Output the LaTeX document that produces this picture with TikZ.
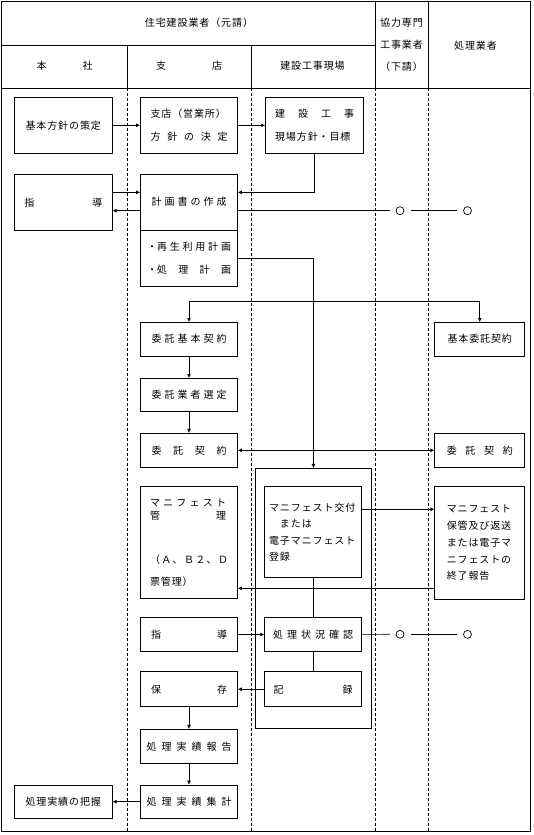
\documentclass[tikz,border=0pt]{standalone}
\usepackage{fontspec}
\newfontfamily\jfont[LetterSpace=9]{Noto Sans CJK JP}
\usetikzlibrary{arrows.meta}
\newcommand\spread[2]{\makebox[#1][s]{\spaceskip=0pt plus 1fil\relax #2}}

\begin{document}
\begin{tikzpicture}[x=1pt, y=-1pt, line width=0.7pt,
    >={Latex[length=4pt,width=4pt]},
    every node/.style={font=\jfont\fontsize{10}{13}\selectfont},
    box/.style={draw, minimum width=97pt, minimum height=34pt, inner sep=2pt},
    lane/.style={dash pattern=on 3pt off 2pt},
    ring/.style={draw, circle, minimum size=8pt, inner sep=0pt}]
    \useasboundingbox (0,0) rectangle (533,835);

    % frame and lanes
    \draw (1.5,1.5) rectangle (530.5,831.5);
    \draw (1.5,45.7) -- (375.5,45.7);
    \draw (1.5,88.3) -- (530.5,88.3);
    \draw (375.5,1.5) -- (375.5,88.3);
    \draw (428.6,1.5) -- (428.6,88.3);
    \draw (127.5,45.7) -- (127.5,88.3);
    \draw (251,45.7) -- (251,88.3);
    \foreach \x in {127.5,251,375.5,428.6}
        \draw[lane] (\x,88.3) -- (\x,831.5);

    \node (motouke) at (199,22.7) {住宅建設業者（元請）};
    \node[align=center, font=\jfont\fontsize{10}{22}\selectfont] (shitauke) at (401.5,44.5) {協力専門\\工事業者\\（下請）};
    \node (gyosha) at (475.5,45.7) {処理業者};
    \node (honsha) at (64.5,65.7) {\spread{56pt}{本 社}};
    \node (shitenh) at (189,65.7) {\spread{66pt}{支 店}};
    \node (genbah) at (312.5,65.7) {建設工事現場};

    % honsha
    \node[box, minimum width=97.9pt, minimum height=56pt] (kihon) at (63.25,125.3) {基本方針の策定};
    \node[box, minimum width=97.9pt, minimum height=55.7pt] (shidouA) at (63.25,202.2) {\spread{78pt}{指 導}};
    \node[box, minimum width=97.9pt, minimum height=33.3pt] (haaku) at (63.25,801.7) {処理実績の把握};

    % shiten
    \node[box, minimum height=56pt, align=left] (shiten) at (189,125.3) {支店（営業所）\\[9.6pt]\spread{77pt}{方 針 の 決 定}};
    \node[box, minimum height=55.7pt] (keikaku) at (189,202.2) {\spread{75pt}{計 画 書 の 作 成}};
    \node[box, minimum height=56pt, align=left] (plan) at (189,258) {・\spread{74pt}{再 生 利 用 計 画}\\[10.4pt]・\spread{74pt}{処 理 計 画}};
    \node[box, minimum height=33.7pt] (kihonkeiyaku) at (189,339.2) {\spread{75pt}{委 託 基 本 契 約}};
    \node[box, minimum height=32.7pt] (sentei) at (189,394.7) {\spread{75pt}{委 託 業 者 選 定}};
    \node[box] (keiyakuB) at (189,450.3) {\spread{75pt}{委 託 契 約}};
    \node[box, minimum height=111.6pt, text width=78pt, align=left] (kanri) at (189,542.5)
        {\spread{76pt}{マ ニ フ ェ ス ト}\\\spread{76pt}{管 理}\\[31.3pt]\spread{78pt}{（ Ａ 、 Ｂ ２ 、 Ｄ}\\[9.4pt]票管理）};
    \node[box, minimum height=34.4pt] (shidouB) at (189,634.5) {\spread{76pt}{指 導}};
    \node[box, minimum height=35pt] (hozon) at (189,689.2) {\spread{76pt}{保 存}};
    \node[box] (houkoku) at (189,746.3) {\spread{85pt}{処 理 実 績 報 告}};
    \node[box, minimum height=33.3pt] (shukei) at (189,801.7) {\spread{85pt}{処 理 実 績 集 計}};

    % genba
    \node[box, minimum width=98pt, minimum height=56pt, align=left] (genba) at (314.6,125.3) {\spread{79pt}{建 設 工 事}\\[9.6pt]現場方針・目標};
    \node[draw, minimum width=116pt, minimum height=260pt] (kanribox) at (313.4,598.3) {};
    \node[box, minimum height=90.6pt, text width=88pt, align=left, font=\jfont\fontsize{10}{16.4}\selectfont] (koufu) at (313.1,532)
        {マニフェスト交付\\　または\\電子マニフェスト\\登録};
    \node[box, minimum height=34.4pt] (kakunin) at (313.1,634.5) {\spread{80pt}{処 理 状 況 確 認}};
    \node[box, minimum height=35pt] (kiroku) at (313.1,689.2) {\spread{79pt}{記 録}};

    % shori gyosha
    \node[box, minimum width=90pt, minimum height=33.7pt] (kihonitaku) at (479.75,339.2) {基本委託契約};
    \node[box, minimum width=90pt] (keiyakuE) at (479.75,450.3) {\spread{66pt}{委 託 契 約}};
    \node[box, minimum width=90pt, minimum height=112.6pt, text width=66pt, align=left, font=\jfont\fontsize{10}{16.75}\selectfont] (hokan) at (479.75,543)
        {マニフェスト\\保管及び返送\\または電子マ\\ニフェストの\\終了報告};

    \node[ring] (r1) at (400,210.7) {};
    \node[ring] (r2) at (467.5,210.7) {};
    \node[ring] (r3) at (400,634.3) {};
    \node[ring] (r4) at (467.5,634.3) {};

    % connectors
    \draw[->] (kihon) -- (shiten);
    \draw[->] (shiten) -- (genba);
    \draw[->] (genba.south) |- ([yshift=9.9pt]keikaku.east);
    \draw[->] ([yshift=9.9pt]shidouA.east) -- ([yshift=9.9pt]keikaku.west);
    \draw[->] ([yshift=-8.5pt]keikaku.west) -- ([yshift=-8.5pt]shidouA.east);
    \draw[shorten >=5.5pt] ([yshift=-8.5pt]keikaku.east) -- (r1);
    \draw[shorten <=7pt, shorten >=6pt] (r1) -- (r2);
    \draw[->] (plan.east) -| (kanribox.north);
    \draw[<->] (kihonkeiyaku.north) -- ++(0,-20.6) -| (kihonitaku.north);
    \draw[->] (kihonkeiyaku) -- (sentei);
    \draw[->] (sentei) -- (keiyakuB);
    \draw[<->] (keiyakuB) -- (keiyakuE);
    \coordinate (koufuout) at ([yshift=22.7pt]koufu.east);
    \draw[->] (koufuout) -- (koufuout -| hokan.west);
    \coordinate (hokanout) at ([yshift=-45.3pt]hokan.west);
    \draw[->] (hokanout) -- (hokanout -| kanri.east);
    \draw (koufu) -- (kakunin);
    \draw (kakunin) -- (kiroku);
    \draw[->] (shidouB) -- (kakunin);
    \draw[shorten >=5.5pt] (kakunin) -- (r3);
    \draw[shorten <=7pt, shorten >=6pt] (r3) -- (r4);
    \draw[->] (kiroku) -- (hozon);
    \draw[->] (hozon) -- (houkoku);
    \draw[->] (houkoku) -- (shukei);
    \draw[->] (shukei) -- (haaku);
\end{tikzpicture}
\end{document}
